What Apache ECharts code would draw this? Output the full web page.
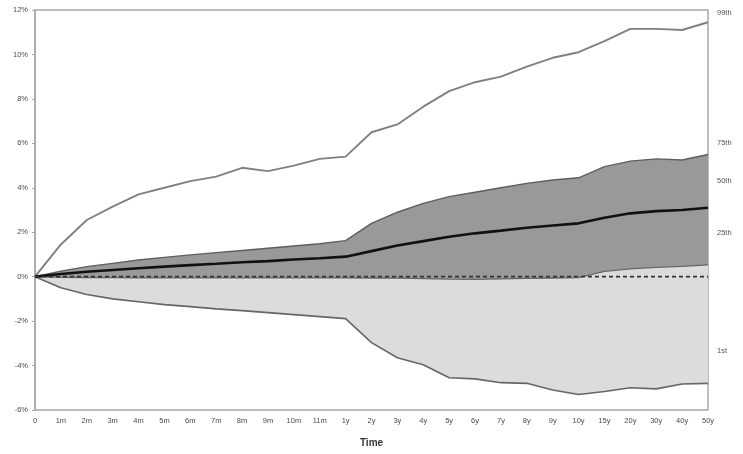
<!DOCTYPE html>
<html>
<head>
<meta charset="utf-8">
<script src="https://cdn.jsdelivr.net/npm/echarts@6/dist/echarts.min.js"></script>
<style>
  html, body { margin: 0; padding: 0; background: #fff; }
  #chart { width: 743px; height: 454px; }
</style>
</head>
<body>
<div id="chart"></div>
<script>
// Horizon labels along the time axis
const categories = ['0','1m','2m','3m','4m','5m','6m','7m','8m','9m','10m','11m','1y',
  '2y','3y','4y','5y','6y','7y','8y','9y','10y','15y','20y','30y','40y','50y'];

// Percentile paths of the return distribution (%)
const p99 = [0, 1.45, 2.55, 3.15, 3.7, 4.0, 4.3, 4.5, 4.9, 4.75, 5.0, 5.3, 5.4,
  6.5, 6.85, 7.65, 8.35, 8.75, 9.0, 9.45, 9.85, 10.1, 10.6, 11.15, 11.15, 11.1, 11.45];
const p75 = [0, 0.25, 0.45, 0.6, 0.75, 0.87, 0.98, 1.08, 1.18, 1.28, 1.38, 1.48, 1.62,
  2.4, 2.9, 3.3, 3.6, 3.8, 4.0, 4.2, 4.35, 4.45, 4.95, 5.2, 5.3, 5.25, 5.5];
const p50 = [0, 0.12, 0.22, 0.3, 0.38, 0.45, 0.52, 0.58, 0.65, 0.7, 0.77, 0.83, 0.9,
  1.15, 1.4, 1.6, 1.8, 1.95, 2.07, 2.2, 2.3, 2.4, 2.65, 2.85, 2.95, 3.0, 3.1];
const p25 = [0, -0.03, -0.04, -0.04, -0.05, -0.05, -0.05, -0.05, -0.05, -0.05, -0.05, -0.05, -0.05,
  -0.06, -0.07, -0.09, -0.11, -0.12, -0.1, -0.08, -0.06, -0.04, 0.24, 0.35, 0.42, 0.46, 0.53];
const p1 = [0, -0.5, -0.8, -1.0, -1.13, -1.26, -1.35, -1.45, -1.53, -1.62, -1.71, -1.8, -1.89,
  -2.97, -3.65, -3.96, -4.55, -4.6, -4.77, -4.8, -5.1, -5.3, -5.17, -5.0, -5.05, -4.83, -4.8];
// Zero-return reference line
const zeroLine = categories.map(() => 0);

// Percentile names shown at the right edge
const percentileNames = ['99th', '75th', '50th', '25th', '1st'];

const yTicks = { min: -6, max: 12, interval: 2 };

const lowerBand = p25.map((v, i) => +(v - p1[i]).toFixed(4));
const upperBand = p75.map((v, i) => +(v - p25[i]).toFixed(4));

const chart = echarts.init(document.getElementById('chart'), null, { renderer: 'canvas' });

const font = 'Liberation Sans, Arial, sans-serif';
const edge = (name, data, color, width) => ({
  name, type: 'line', data, symbol: 'none', silent: true,
  lineStyle: { color, width }, z: 5
});

const rightLabelY = [13, 143, 181, 233, 351];

chart.setOption({
  animation: false,
  backgroundColor: '#fff',
  grid: { left: 35, right: 35, top: 10, bottom: 44, show: true, borderColor: '#a8a8a8', borderWidth: 1.5 },
  xAxis: {
    type: 'category', data: categories, boundaryGap: false,
    name: 'Time', nameLocation: 'middle', nameGap: 28,
    nameTextStyle: { fontFamily: font, fontSize: 10, fontWeight: 'bold', color: '#333' },
    axisLine: { lineStyle: { color: '#a8a8a8', width: 1.5 } },
    axisTick: { show: true, length: 3, lineStyle: { color: '#a8a8a8' } },
    axisLabel: { fontFamily: font, fontSize: 7.5, color: '#4a4a4a', margin: 7, interval: 0 },
    splitLine: { show: false }
  },
  yAxis: {
    type: 'value', min: yTicks.min, max: yTicks.max, interval: yTicks.interval,
    axisLine: { show: true, lineStyle: { color: '#a8a8a8', width: 1.5 } },
    axisTick: { show: true, length: 3, lineStyle: { color: '#a8a8a8' } },
    axisLabel: { fontFamily: font, fontSize: 7.5, color: '#4a4a4a', margin: 7, formatter: '{value}%' },
    splitLine: { show: false }
  },
  series: [
    { name: 'base', type: 'line', stack: 'band', stackStrategy: 'all', data: p1,
      symbol: 'none', silent: true, lineStyle: { width: 0 }, areaStyle: { opacity: 0 }, z: 1 },
    { name: '1st-25th', type: 'line', stack: 'band', stackStrategy: 'all', data: lowerBand,
      symbol: 'none', silent: true, lineStyle: { width: 0 }, areaStyle: { color: '#dcdcdc', opacity: 1 }, z: 1 },
    { name: '25th-75th', type: 'line', stack: 'band', stackStrategy: 'all', data: upperBand,
      symbol: 'none', silent: true, lineStyle: { width: 0 }, areaStyle: { color: '#999999', opacity: 1 }, z: 1 },
    edge('1st', p1, '#666', 1.6),
    edge('25th', p25, '#666', 1.3),
    edge('75th', p75, '#5e5e5e', 1.4),
    edge('99th', p99, '#808080', 1.9),
    { name: 'zero', type: 'line', data: zeroLine, symbol: 'none', silent: true,
      lineStyle: { color: '#333', width: 1.8, type: [4, 3] }, z: 6 },
    edge('50th', p50, '#111', 2.6)
  ],
  graphic: percentileNames.map((t, i) => ({
    type: 'text', left: 717, top: rightLabelY[i] - 4,
    style: { text: t, fontFamily: font, fontSize: 7.5, fill: '#555' }
  }))
});
</script>
</body>
</html>
